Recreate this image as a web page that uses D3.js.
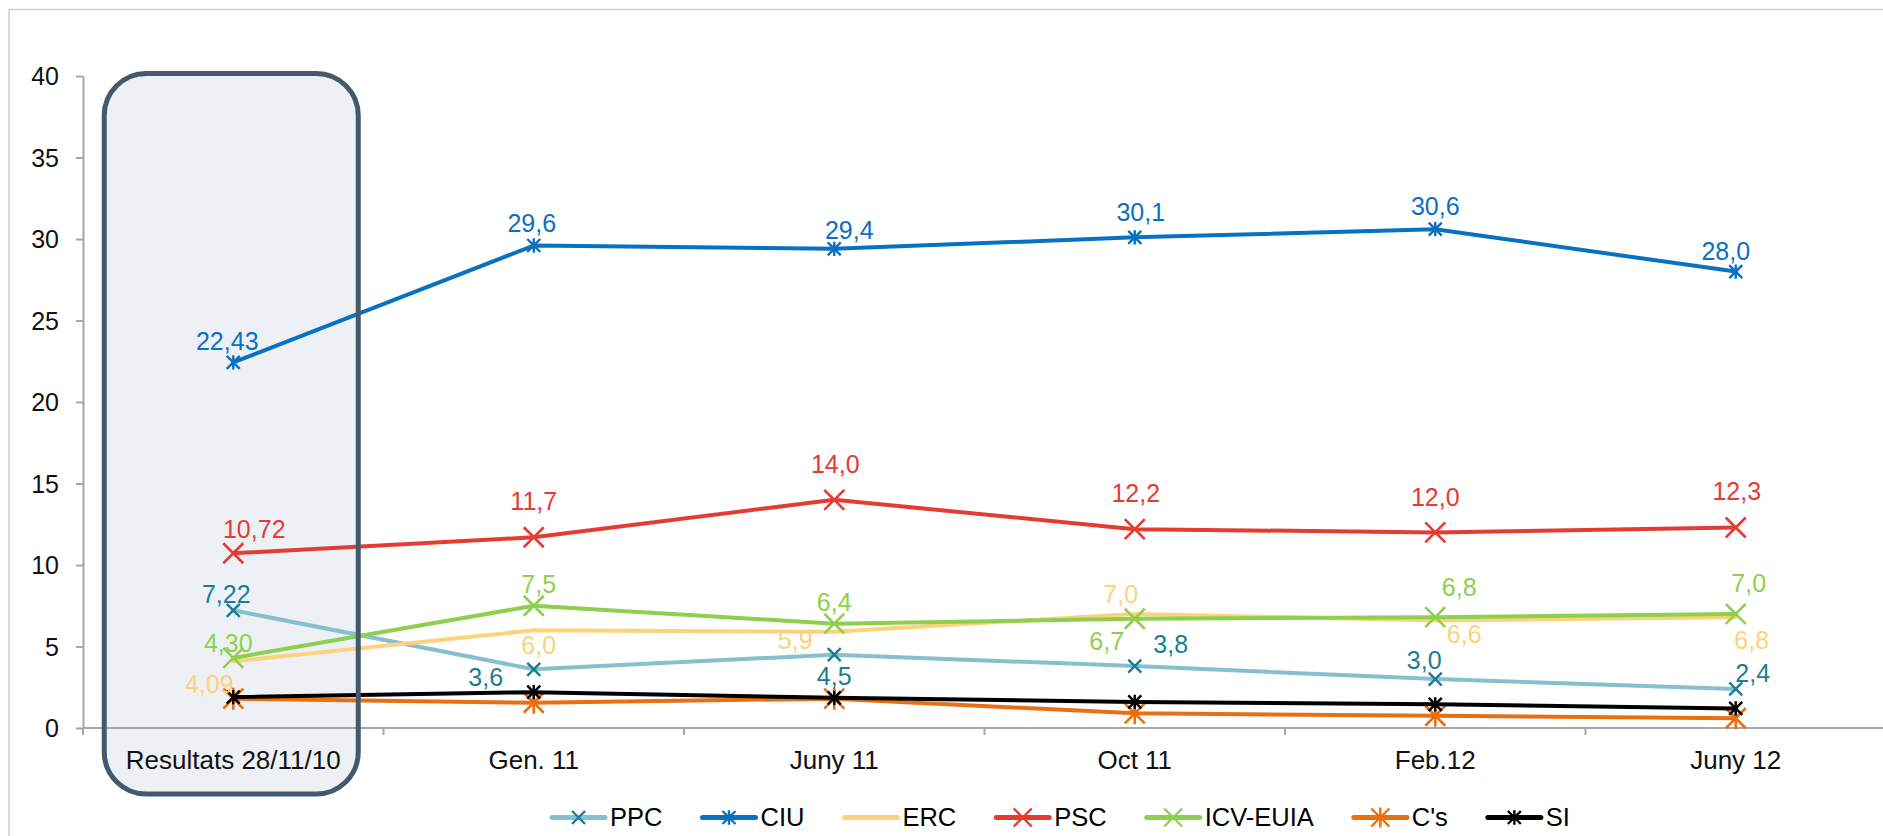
<!DOCTYPE html>
<html>
<head>
<meta charset="utf-8">
<script src="https://cdn.jsdelivr.net/npm/d3@7"></script>
<style>
  html, body { margin: 0; padding: 0; background: #ffffff; }
  svg { display: block; }
  text { font-family: "Liberation Sans", Arial, Helvetica, sans-serif; }
</style>
</head>
<body>
<svg id="chart" width="1883" height="836"></svg>
<script>
// Poll series (% of census), one value per survey
const categories = ["Resultats 28/11/10", "Gen. 11", "Juny 11", "Oct 11", "Feb.12", "Juny 12"];
const ppc = [7.22, 3.6, 4.5, 3.8, 3.0, 2.4];
const ciu = [22.43, 29.6, 29.4, 30.1, 30.6, 28.0];
const erc = [4.09, 6.0, 5.9, 7.0, 6.6, 6.8];
const psc = [10.72, 11.7, 14.0, 12.2, 12.0, 12.3];
const icv = [4.30, 7.5, 6.4, 6.7, 6.8, 7.0];
const cs  = [1.8, 1.55, 1.8, 0.9, 0.75, 0.6];
const si  = [1.9, 2.2, 1.85, 1.6, 1.45, 1.2];
const yTicks = [0, 5, 10, 15, 20, 25, 30, 35, 40];

// Series styling
const series = [
  { name: "PPC",      values: ppc, line: "#86c0cf", marker: "#1b7d95", label: "#1b7d95", shape: "x",    size: 6.5, labels: true },
  { name: "CIU",      values: ciu, line: "#0a70c2", marker: "#0a70c2", label: "#0a70c2", shape: "star", size: 6.5, labels: true },
  { name: "ERC",      values: erc, line: "#fdd27c", marker: null,      label: "#fdd27c", shape: null,   size: 0,   labels: true },
  { name: "PSC",      values: psc, line: "#e43c33", marker: "#e43c33", label: "#e43c33", shape: "x",    size: 10,  labels: true },
  { name: "ICV-EUIA", values: icv, line: "#8fcf4e", marker: "#8fcf4e", label: "#8fcf4e", shape: "x",    size: 10,  labels: true },
  { name: "C's",      values: cs,  line: "#e86f12", marker: "#e86f12", label: "#e86f12", shape: "star", size: 10,  labels: false },
  { name: "SI",       values: si,  line: "#000000", marker: "#000000", label: "#000000", shape: "star", size: 6.5, labels: false }
];

// Per-point nudges for the value labels (pixels from the marker)
const labelOffsets = {
  "PPC":      [[-7, -16], [-48, 8], [0, 22], [36, -22], [-11, -19], [17, -16]],
  "CIU":      [[-6, -21], [-2, -22], [15, -19], [6, -25], [0, -23], [-10, -20]],
  "ERC":      [[-24, 23], [5, 15], [-39, 8], [-14, -20], [29, 14], [16, 23]],
  "PSC":      [[21, -24], [0, -36], [1, -36], [1, -36], [0, -35], [1, -36]],
  "ICV-EUIA": [[-5, -15], [5, -22], [0, -21], [-28, 22], [24, -30], [13, -31]]
};

const svg = d3.select("#chart");
const W = 1883, H = 836;

const x = d3.scaleBand().domain(categories).range([83, 1886]).paddingInner(0).paddingOuter(0);
const y = d3.scaleLinear().domain([0, 40]).range([728, 76]);
const cx = c => x(c) + x.bandwidth() / 2;

// Chart area frame
svg.append("rect")
  .attr("x", 9).attr("y", 9.5)
  .attr("width", W).attr("height", H)
  .attr("fill", "#ffffff")
  .attr("stroke", "#cfcfcf").attr("stroke-width", 1.5);

// Highlight box around the election result (fill below, outline on top)
const boxX = cx(categories[0]) - 129, boxW = 254;
const boxTop = y(40) - 2.5, boxBottom = y(0) + 66;
svg.append("rect")
  .attr("x", boxX).attr("y", boxTop)
  .attr("width", boxW).attr("height", boxBottom - boxTop)
  .attr("rx", 42).attr("ry", 42)
  .attr("fill", "#edf1f5");

// Y axis
const yAxis = svg.append("g")
  .attr("transform", "translate(83,0)")
  .call(d3.axisLeft(y).tickValues(yTicks).tickSize(7).tickSizeOuter(0).tickPadding(17).tickFormat(d3.format("d")));
yAxis.select(".domain").attr("stroke", "#a6a6a6").attr("stroke-width", 2);
yAxis.selectAll(".tick line").attr("stroke", "#a6a6a6").attr("stroke-width", 2);
yAxis.selectAll(".tick text").attr("font-size", 25).attr("fill", "#111").attr("dy", "0.35em")
  .style("font-family", '"Liberation Sans", Arial, sans-serif');

// X axis: baseline, boundary ticks, centered labels
const xAxis = svg.append("g").attr("transform", `translate(0,${y(0)})`);
xAxis.append("line").attr("x1", 83).attr("x2", W).attr("y1", 0).attr("y2", 0)
  .attr("stroke", "#a6a6a6").attr("stroke-width", 2);
const bounds = categories.map(c => x(c)).concat([x(categories[categories.length - 1]) + x.bandwidth()]);
xAxis.selectAll("line.bt").data(bounds).join("line").attr("class", "bt")
  .attr("x1", d => d).attr("x2", d => d).attr("y1", 0).attr("y2", 7)
  .attr("stroke", "#a6a6a6").attr("stroke-width", 2);
xAxis.selectAll("text.xl").data(categories).join("text").attr("class", "xl")
  .attr("x", d => cx(d)).attr("y", 31.5).attr("dy", "0.35em")
  .attr("text-anchor", "middle").attr("font-size", 26).attr("fill", "#111")
  .text(d => d);

// Markers
function markerPath(shape, h) {
  if (shape === "x") return `M${-h},${-h}L${h},${h}M${-h},${h}L${h},${-h}`;
  if (shape === "star") return `M${-h},${-h}L${h},${h}M${-h},${h}L${h},${-h}M0,${-h * 1.1}L0,${h * 1.1}`;
  return "";
}

const line = d3.line().x((d, i) => cx(categories[i])).y(d => y(d));
const plot = svg.append("g");

series.forEach(s => {
  const g = plot.append("g").attr("class", "series");
  g.append("path").datum(s.values)
    .attr("d", line).attr("fill", "none")
    .attr("stroke", s.line).attr("stroke-width", 4)
    .attr("stroke-linejoin", "round").attr("stroke-linecap", "round");
  if (s.shape) {
    g.selectAll("path.mk").data(s.values).join("path").attr("class", "mk")
      .attr("transform", (d, i) => `translate(${cx(categories[i])},${y(d)})`)
      .attr("d", markerPath(s.shape, s.size))
      .attr("fill", "none").attr("stroke", s.marker)
      .attr("stroke-width", s.size > 8 ? 2.6 : 2.4);
  }
});

// Value labels (comma decimal separator)
const fmt = (v, i) => (i === 0 ? v.toFixed(2) : v.toFixed(1)).replace(".", ",");
series.filter(s => s.labels).forEach(s => {
  const off = labelOffsets[s.name];
  plot.append("g").selectAll("text").data(s.values).join("text")
    .attr("x", (d, i) => cx(categories[i]) + off[i][0])
    .attr("y", (d, i) => y(d) + off[i][1])
    .attr("dy", "0.35em")
    .attr("text-anchor", "middle").attr("font-size", 25)
    .attr("fill", s.label)
    .text((d, i) => fmt(d, i));
});

// Outline of the highlight box drawn over the lines
svg.append("rect")
  .attr("x", boxX).attr("y", boxTop)
  .attr("width", boxW).attr("height", boxBottom - boxTop)
  .attr("rx", 42).attr("ry", 42)
  .attr("fill", "none").attr("stroke", "#445a6a").attr("stroke-width", 5);

// Legend
const legend = svg.append("g");
const legY = 817.5;
let cursor = 0;
const items = [];
series.forEach(s => {
  const it = legend.append("g");
  it.append("line").attr("x1", 0).attr("x2", 53).attr("y1", 0).attr("y2", 0)
    .attr("stroke", s.line).attr("stroke-width", 5).attr("stroke-linecap", "round");
  if (s.shape) {
    it.append("path").attr("transform", "translate(26.5,0)")
      .attr("d", markerPath(s.shape, s.size > 8 ? 9 : 6.5))
      .attr("fill", "none").attr("stroke", s.marker).attr("stroke-width", 2.4);
  }
  const t = it.append("text").attr("x", 58).attr("y", 0).attr("dy", "0.35em")
    .attr("font-size", 25.5).attr("fill", "#000").text(s.name);
  const w = 58 + t.node().getComputedTextLength();
  items.push({ it, start: cursor });
  cursor += w + 40;
});
const total = cursor - 40;
const legStart = 1061 - total / 2;
items.forEach(d => d.it.attr("transform", `translate(${legStart + d.start},${legY})`));
</script>
</body>
</html>
